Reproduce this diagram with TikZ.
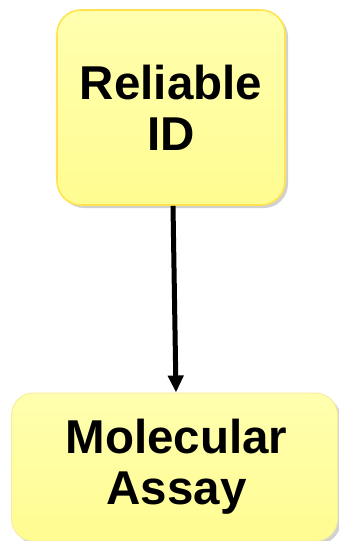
\documentclass[tikz,border=0pt]{standalone}
\usepackage{fontspec}
\setmainfont{Liberation Sans}
\usetikzlibrary{shadows,arrows.meta}
\definecolor{boxfill}{RGB}{255,252,145}
\definecolor{boxtop}{RGB}{255,255,175}
\definecolor{boxedge}{RGB}{255,228,80}
\definecolor{paleedge}{RGB}{245,240,160}
\tikzset{
  ybox/.style={rounded corners=24pt, align=center, inner sep=0pt,
    font=\bfseries\fontsize{47.5}{51}\selectfont,
    drop shadow={shadow xshift=3pt, shadow yshift=-3pt, opacity=0.3, fill=black!60}},
  conn/.style={line width=5pt, -{Triangle[length=17pt,width=15pt]}}
}
\begin{document}
\begin{tikzpicture}[x=1pt,y=1pt]
\useasboundingbox (0,0) rectangle (339,-541);
\node[ybox, draw=boxedge, line width=1.6pt, top color=boxtop, bottom color=boxfill,
  minimum width=228pt, minimum height=195pt] (rel) at (171,-107.5) {Reliable\\ID};
\node[ybox, rounded corners=22pt, draw=paleedge, line width=1pt, top color=boxtop, bottom color=boxfill,
  minimum width=326pt, minimum height=148pt] (mol) at (174.5,-467) {\hspace*{4pt}Molecular\\\hspace*{4pt}Assay};
\draw[conn] ([xshift=2pt]rel.south) -- ([xshift=1.5pt]mol.north);
\end{tikzpicture}
\end{document}
